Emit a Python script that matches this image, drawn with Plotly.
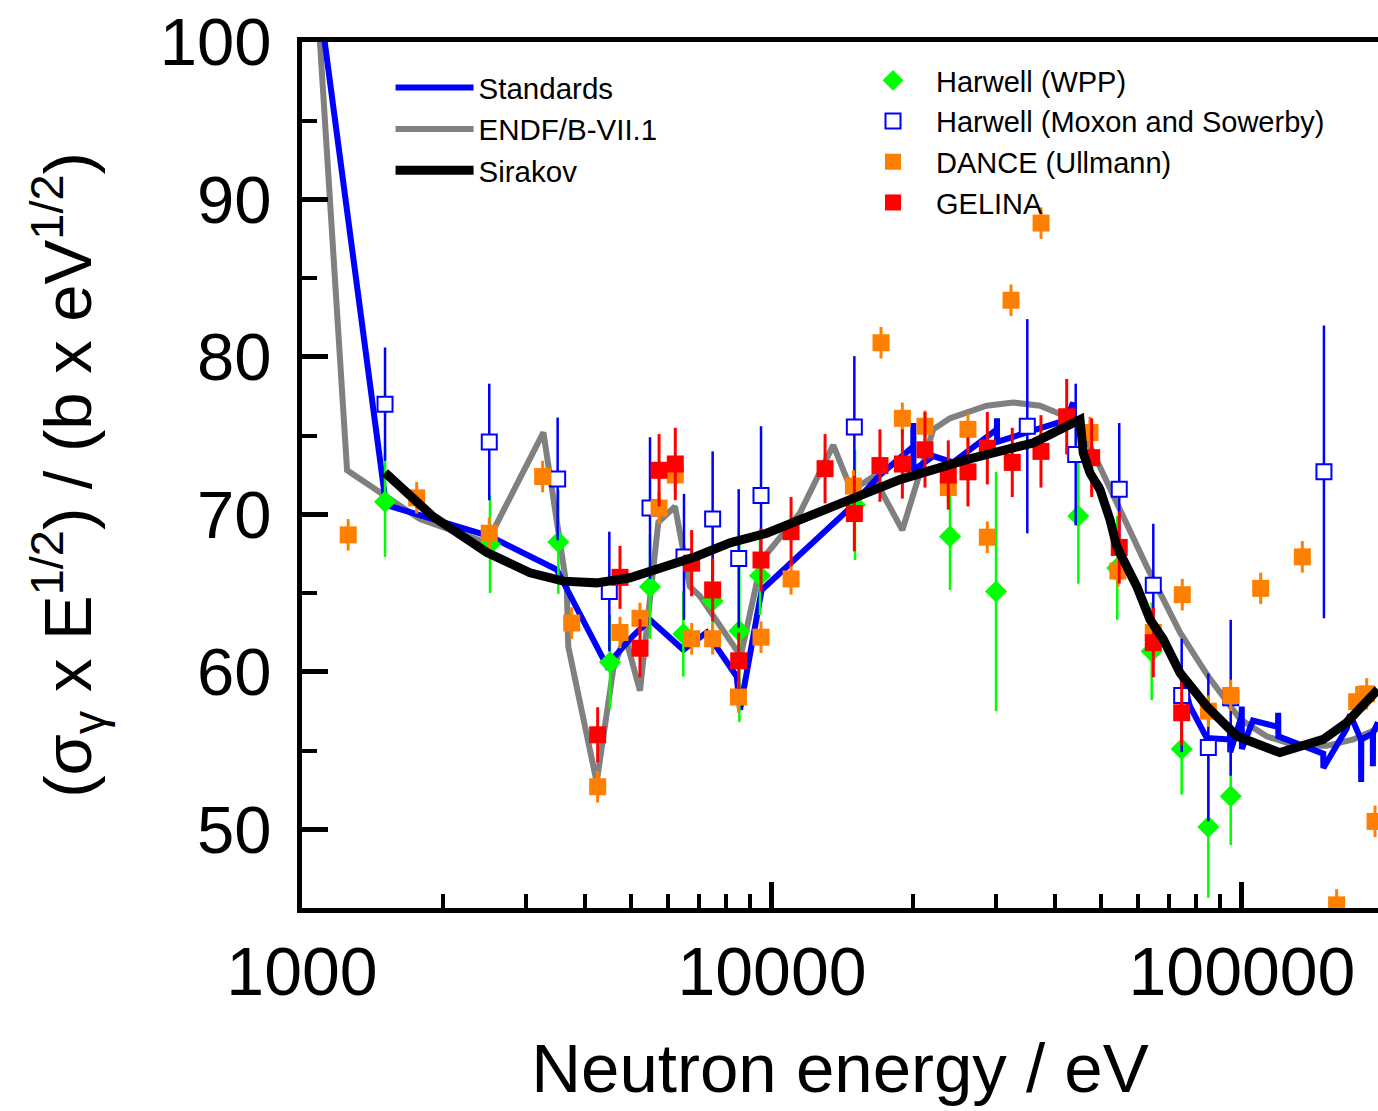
import plotly.graph_objects as go

# ---------------- data ----------------
std_E = [1000, 1509, 2512, 3482, 4450, 5069, 5501, 6476, 7261, 8414, 8551, 9506,
         14420, 16970, 19980, 19990, 20000, 22040, 24280, 30090, 30110, 30130,
         42370, 43700, 43750, 45220, 46720, 49880, 52370, 54120, 59690, 63730,
         68020, 73810, 77520, 84110, 94300, 94350, 94400, 99840, 99900, 99960,
         105500, 119300, 119400, 119500, 148900, 149000, 167000, 169800,
         179200, 179300, 179400, 189800, 189900, 190000, 194700]
std_V = [110.9, 70.6, 68.6, 66.5, 60.4, 62.3, 63.3, 61.4, 62.5, 59.7, 57.6, 65.2,
         70.2, 72.5, 74.3, 75.8, 72.8, 73.7, 73.3, 75.4, 76.1, 74.6,
         76.0, 77.1, 76.0, 76.0, 73.0, 71.8, 69.7, 68.0, 65.5, 63.4,
         62.1, 60.1, 57.8, 55.8, 55.7, 56.6, 54.9, 57.2, 57.8, 55.1,
         56.9, 56.5, 57.4, 55.9, 54.8, 53.9, 56.4, 57.3,
         55.7, 53.0, 55.7, 56.1, 54.0, 56.1, 56.8]

endf_E = [1000, 1247, 1782, 2475, 3263, 3658, 3686, 4236, 4597, 4866, 5237, 5730,
          6218, 6691, 7028, 8484, 8551, 9506, 11470, 13500, 14775, 16430, 18937,
          22036, 23920, 28620, 32620, 37170, 42370, 44300, 46720, 49880, 55020,
          62690, 73810, 84800, 99010, 112800, 130700, 151400, 172600, 194700]
endf_V = [118.0, 72.8, 69.7, 68.2, 75.2, 65.4, 61.6, 53.0, 60.2, 62.3, 58.8, 69.5,
          70.5, 65.4, 64.8, 61.2, 60.8, 67.1, 70.1, 74.4, 71.5, 72.4, 69.0,
          75.4, 76.1, 76.9, 77.1, 76.9, 76.2, 75.8, 74.8, 73.0, 70.5,
          66.7, 62.5, 59.7, 57.0, 55.9, 55.3, 55.3, 55.7, 56.4]

sir_E = [1502, 1900, 2475, 3056, 3597, 4236, 4988, 5871, 6916, 8141, 9743,
         13500, 18720, 25960, 35970, 45220, 45950, 47490, 49880, 52370, 54120,
         55880, 59690, 63730, 68020, 73810, 84110, 97430, 120400, 148900,
         167000, 194700]
sir_V = [72.65, 69.86, 67.58, 66.29, 65.76, 65.65, 65.97, 66.6, 67.34, 68.19, 68.8,
         70.51, 72.21, 73.48, 74.54, 76.02, 73.9, 72.63, 71.57, 69.67, 67.98,
         67.13, 65.44, 63.32, 62.06, 59.94, 57.82, 55.92, 54.87, 55.71,
         56.77, 58.88]

wpp_E = [1502, 2512, 3511, 4522, 5501, 6476, 7477, 8523, 9430, 15020, 23920,
         29970, 44850, 54280, 64250, 74420, 84800, 94630]
wpp_V = [70.8, 68.1, 68.25, 60.6, 65.4, 62.4, 64.5, 62.6, 66.1, 70.6, 68.6,
         65.1, 69.9, 66.6, 61.3, 55.1, 50.15, 52.1]
wpp_err = [3.5, 3.1, 3.3, 3.0, 3.3, 2.7, 3.0, 5.8, 2.5, 3.5, 3.4,
           7.6, 4.3, 3.3, 3.1, 2.9, 4.5, 3.1]

ms_E = [1502, 2503, 3499, 4507, 5501, 6497, 7477, 8495, 9476, 14970, 34930,
        44280, 54810, 64760, 74420, 84800, 94630, 149400]
ms_V = [77.0, 74.6, 72.25, 65.1, 70.4, 67.3, 69.7, 67.2, 71.2, 75.55, 75.6,
        73.8, 71.6, 65.5, 58.5, 55.2, 58.35, 72.7]
ms_err = [3.6, 3.7, 3.9, 3.8, 4.5, 4.0, 4.3, 4.4, 4.4, 4.5, 6.8,
          4.5, 4.2, 3.9, 3.6, 4.7, 4.95, 9.3]

dance_E = [1254, 1754, 2503, 3251, 3748, 4257, 4749, 5237, 5751, 6227, 6746,
           7477, 8484, 9476, 10980, 14900, 17060, 18940, 21160, 23720, 26120,
           28720, 32260, 37370, 47490, 54460, 64760, 74640, 84800, 94630,
           109600, 134400, 159000, 175400, 184200, 191900]
dance_V = [68.7, 71.05, 68.8, 72.4, 63.1, 52.7, 62.5, 63.4, 70.4, 72.5, 62.1,
           62.1, 58.4, 62.2, 65.9, 71.8, 80.9, 76.1, 75.6, 71.7, 75.4,
           68.55, 83.6, 88.5, 75.2, 66.4, 62.5, 64.9, 57.5, 58.5,
           65.3, 67.3, 45.2, 58.1, 58.6, 50.5]
dance_err = [1.0] * len(dance_E)

gel_E = [4257, 4749, 5237, 5751, 6227, 6746, 7477, 8495, 9476, 10980, 12970,
         14970, 16970, 18940, 21160, 23720, 26120, 28720, 32450, 37350, 42370,
         47880, 54810, 64760, 74420]
gel_V = [56.0, 66.0, 61.5, 72.8, 73.2, 66.9, 65.2, 60.7, 67.1, 68.9, 72.9,
         70.05, 73.1, 73.2, 74.1, 72.5, 72.7, 74.2, 73.3, 74.0, 76.2,
         73.6, 67.9, 61.85, 57.4]
gel_err = [1.75, 2.0, 1.85, 2.3, 2.3, 2.1, 2.0, 1.8, 2.0, 2.2, 2.2,
           2.4, 2.3, 2.2, 2.4, 2.2, 2.2, 2.3, 2.2, 2.3, 2.4,
           2.5, 2.3, 2.2, 2.1]

x_ticks = [1000, 10000, 100000]
x_ticklabels = ["1000", "10000", "100000"]
x_minor = [d * m for d in x_ticks for m in range(2, 10)]

FONT = "Liberation Sans, Arial, sans-serif"

fig = go.Figure()

fig.add_trace(go.Scatter(x=endf_E, y=endf_V, mode="lines", name="ENDF/B-VII.1",
                         line=dict(color="#808080", width=6), legend="legend",
                         legendrank=2))
fig.add_trace(go.Scatter(x=std_E, y=std_V, mode="lines", name="Standards",
                         line=dict(color="#0000ff", width=6), legend="legend",
                         legendrank=1))

fig.add_trace(go.Scatter(x=wpp_E, y=wpp_V, mode="markers", name="Harwell (WPP)",
                         marker=dict(symbol="diamond", size=17, color="#00ff00"),
                         error_y=dict(type="data", array=wpp_err, color="#00ff00",
                                      thickness=2.5, width=0),
                         legend="legend2", legendrank=1))
fig.add_trace(go.Scatter(x=ms_E, y=ms_V, mode="markers",
                         name="Harwell (Moxon and Sowerby)",
                         marker=dict(symbol="square", size=15, color="white",
                                     line=dict(color="#0000ff", width=2)),
                         error_y=dict(type="data", array=ms_err, color="#0000ff",
                                      thickness=2.5, width=0),
                         legend="legend2", legendrank=2))
fig.add_trace(go.Scatter(x=dance_E, y=dance_V, mode="markers", name="DANCE (Ullmann)",
                         marker=dict(symbol="square", size=17, color="#ff8000"),
                         error_y=dict(type="data", array=dance_err, color="#ff8000",
                                      thickness=3, width=0),
                         legend="legend2", legendrank=3))
fig.add_trace(go.Scatter(x=gel_E, y=gel_V, mode="markers", name="GELINA",
                         marker=dict(symbol="square", size=17, color="#ff0000"),
                         error_y=dict(type="data", array=gel_err, color="#ff0000",
                                      thickness=3, width=0),
                         legend="legend2", legendrank=4))

fig.add_trace(go.Scatter(x=sir_E, y=sir_V, mode="lines", name="Sirakov",
                         line=dict(color="#000000", width=9), legend="legend",
                         legendrank=3))

fig.update_layout(
    width=1378, height=1111,
    margin=dict(l=302, r=0, t=42, b=203),
    paper_bgcolor="white", plot_bgcolor="white",
    font=dict(family=FONT, color="black", size=30),
    showlegend=True,
    legend=dict(x=0.0823, y=0.977, xanchor="left", yanchor="top",
                bgcolor="rgba(0,0,0,0)", font=dict(size=29.5, family=FONT),
                itemwidth=78, traceorder="normal"),
    legend2=dict(x=0.5093, y=0.985, xanchor="left", yanchor="top",
                 bgcolor="rgba(0,0,0,0)", font=dict(size=29, family=FONT),
                 itemwidth=76, traceorder="normal"),
)

fig.update_xaxes(
    type="log", range=[3, 5.2894],
    tickmode="array", tickvals=x_ticks, ticktext=x_ticklabels,
    ticks="inside", ticklen=26, tickwidth=5, tickcolor="black",
    minor=dict(ticks="inside", ticklen=14, tickwidth=4, tickcolor="black",
               tickvals=x_minor),
    showline=True, linewidth=5, linecolor="black", mirror=True,
    showgrid=False, zeroline=False,
    tickfont=dict(size=68, family=FONT),
    ticklabelstandoff=0, ticklabeloverflow="allow",
    title=dict(text="Neutron energy / eV", font=dict(size=69, family=FONT), standoff=38),
)
fig.update_yaxes(
    range=[45, 100], tick0=0, dtick=10,
    ticks="inside", ticklen=26, tickwidth=5, tickcolor="black",
    minor=dict(ticks="inside", ticklen=15, tickwidth=4, tickcolor="black", dtick=5, tick0=0),
    showline=True, linewidth=5, linecolor="black", mirror=False,
    showgrid=False, zeroline=False,
    tickfont=dict(size=67, family=FONT),
    ticklabelstandoff=12, ticklabeloverflow="allow",
    title=dict(text="(σ<sub>γ</sub> x E<sup>1/2</sup>) / (b x eV<sup>1/2</sup>)",
               font=dict(size=67, family=FONT), standoff=48),
)

fig.write_html("out.html", config={"displayModeBar": False},
               post_script="document.body.style.margin='0';document.body.style.overflow='hidden';")
